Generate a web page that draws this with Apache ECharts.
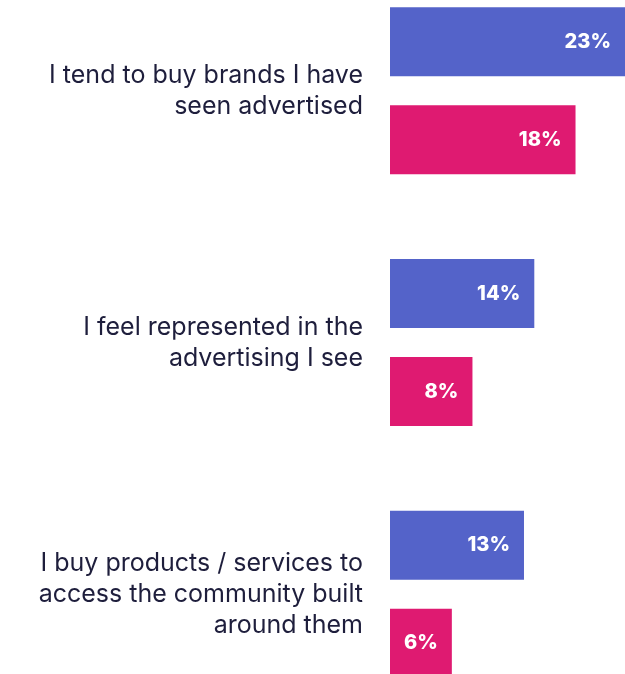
<!DOCTYPE html>
<html>
<head>
<meta charset="utf-8">
<script src="https://cdn.jsdelivr.net/npm/echarts@6/dist/echarts.min.js"></script>
<style>
  html, body { margin: 0; padding: 0; background: #ffffff; }
  #chart { width: 625px; height: 674px; }
</style>
</head>
<body>
<div id="chart"></div>
<script>
// Statements, top to bottom
const categories = [
  'I tend to buy brands I have\nseen advertised',
  'I feel represented in the\nadvertising I see',
  'I buy products / services to\naccess the community built\naround them'
];
// Share agreeing (%), two respondent groups
const seriesA = [23, 14, 13];
const seriesB = [18, 8, 6];

const chart = echarts.init(document.getElementById('chart'));

const barLabel = {
  show: true,
  position: 'insideRight',
  distance: 14,
  color: '#ffffff',
  fontFamily: 'Inter',
  fontWeight: 800,
  fontSize: 20,
  formatter: p => p.value + '%'
};

chart.setOption({
  animation: false,
  grid: {
    left: 390, right: 0, top: -35, height: 755,
    containLabel: false,
    outerBoundsMode: 'none'
  },
  xAxis: {
    type: 'value',
    min: 0,
    max: 22.8,
    show: false
  },
  yAxis: {
    type: 'category',
    data: categories,
    inverse: true,
    axisLine: { show: false },
    axisTick: { show: false },
    splitLine: { show: false },
    axisLabel: {
      margin: 27,
      align: 'right',
      color: '#1e1e3c',
      fontFamily: 'Inter',
      fontSize: 25,
      lineHeight: 31
    }
  },
  series: [
    {
      type: 'bar',
      data: seriesA,
      barWidth: 69,
      barGap: '42%',
      itemStyle: { color: '#5463c9' },
      label: barLabel
    },
    {
      type: 'bar',
      data: seriesB,
      barWidth: 69,
      itemStyle: { color: '#df1a71' },
      label: barLabel
    }
  ]
});
</script>
</body>
</html>
